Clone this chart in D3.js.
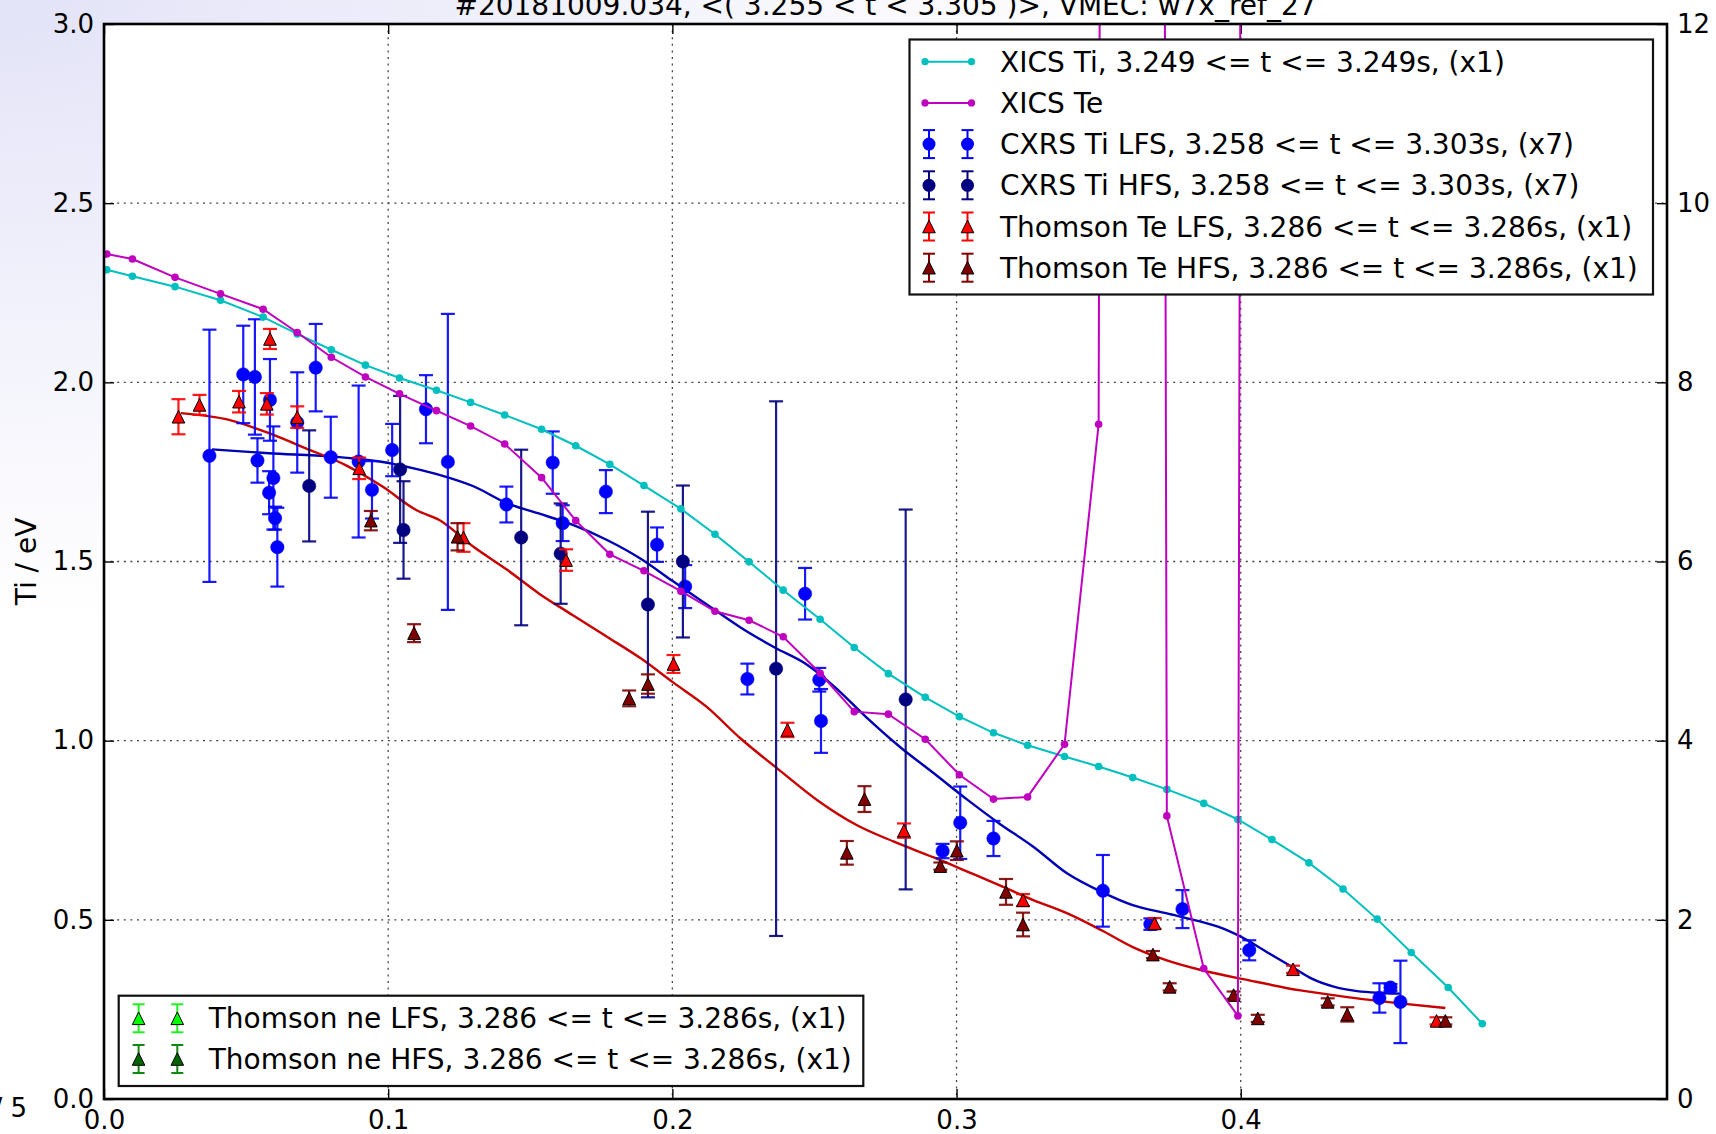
<!DOCTYPE html>
<html>
<head>
<meta charset="utf-8">
<script src="https://cdn.jsdelivr.net/npm/d3@7"></script>
<style>
  body { margin: 0; background: #fff; }
  svg { display: block; font-family: "DejaVu Sans", sans-serif; }
</style>
</head>
<body>
<script>
// ---- profile data (normalised radius vs. temperature) ----
const xicsX  = [0.001, 0.010, 0.025, 0.041, 0.056, 0.068, 0.080, 0.092, 0.104, 0.117, 0.129, 0.141, 0.154, 0.166, 0.178, 0.190, 0.203, 0.215, 0.227, 0.239, 0.252, 0.264, 0.276, 0.289, 0.301, 0.313, 0.325, 0.338, 0.350, 0.362, 0.374, 0.387, 0.399, 0.411, 0.424, 0.436, 0.448, 0.460, 0.473, 0.485];
const xicsTi = [2.314, 2.296, 2.267, 2.229, 2.182, 2.135, 2.091, 2.048, 2.012, 1.978, 1.944, 1.909, 1.869, 1.823, 1.771, 1.712, 1.647, 1.576, 1.499, 1.420, 1.339, 1.260, 1.187, 1.121, 1.067, 1.022, 0.987, 0.956, 0.928, 0.897, 0.864, 0.825, 0.780, 0.724, 0.659, 0.586, 0.502, 0.409, 0.311, 0.210];
// XICS Te inversion diverges at two radii (values far above the axis range)
const xicsTe = [2.358, 2.344, 2.293, 2.247, 2.204, 2.139, 2.070, 2.015, 1.968, 1.921, 1.878, 1.828, 1.734, 1.614, 1.520, 1.474, 1.417, 1.361, 1.336, 1.290, 1.188, 1.081, 1.074, 1.004, 0.905, 0.837, 0.843, 0.990, 1.883, 40.0, 0.790, 0.364, 0.232, 40.0];

// CXRS Ti, low-field side: [rho, Ti, err]
const cxrsLfs = [
  [0.0371, 1.795, 0.352], [0.0490, 2.022, 0.136], [0.0531, 2.015, 0.161], [0.0540, 1.782, 0.062],
  [0.0584, 1.951, 0.114], [0.0596, 1.733, 0.144], [0.0581, 1.692, 0.060], [0.0602, 1.621, 0.032],
  [0.0610, 1.540, 0.110], [0.0680, 1.888, 0.140], [0.0745, 2.041, 0.122], [0.0798, 1.791, 0.113],
  [0.0896, 1.779, 0.212], [0.0943, 1.700, 0.080], [0.1014, 1.811, 0.073], [0.1133, 1.925, 0.095],
  [0.1210, 1.778, 0.413], [0.1416, 1.659, 0.050], [0.1579, 1.776, 0.087], [0.1614, 1.607, 0.050],
  [0.1766, 1.695, 0.060], [0.1946, 1.547, 0.048], [0.2045, 1.430, 0.060], [0.2264, 1.172, 0.043],
  [0.2467, 1.410, 0.072], [0.2517, 1.170, 0.033], [0.2523, 1.055, 0.089], [0.2951, 0.692, 0.020],
  [0.3013, 0.771, 0.101], [0.3130, 0.727, 0.049], [0.3515, 0.581, 0.100], [0.3682, 0.488, 0.016],
  [0.3795, 0.530, 0.053], [0.4030, 0.415, 0.028], [0.4488, 0.282, 0.041], [0.4527, 0.311, 0.010],
  [0.4562, 0.271, 0.115]
];
// CXRS Ti, high-field side
const cxrsHfs = [
  [0.0722, 1.711, 0.155], [0.1042, 1.757, 0.205], [0.1054, 1.588, 0.136], [0.1468, 1.567, 0.245],
  [0.1607, 1.522, 0.140], [0.1914, 1.380, 0.259], [0.2037, 1.500, 0.212], [0.2365, 1.201, 0.746],
  [0.2821, 1.115, 0.530]
];
// Thomson Te, low-field side
const tsLfs = [
  [0.0262, 1.904, 0.049], [0.0336, 1.937, 0.028], [0.0475, 1.946, 0.030], [0.0573, 1.940, 0.030],
  [0.0584, 2.121, 0.028], [0.0680, 1.903, 0.030], [0.0898, 1.760, 0.030], [0.1265, 1.567, 0.040],
  [0.1626, 1.504, 0.030], [0.2004, 1.214, 0.025], [0.2405, 1.030, 0.020], [0.2815, 0.749, 0.020],
  [0.3234, 0.555, 0.017], [0.3697, 0.490, 0.015], [0.4184, 0.362, 0.010], [0.4689, 0.218, 0.010]
];
// Thomson Te, high-field side
const tsHfs = [
  [0.0939, 1.614, 0.027], [0.1091, 1.300, 0.025], [0.1244, 1.569, 0.038], [0.1848, 1.118, 0.022],
  [0.1914, 1.158, 0.027], [0.2614, 0.687, 0.033], [0.2676, 0.837, 0.036], [0.2943, 0.650, 0.010],
  [0.3001, 0.693, 0.026], [0.3174, 0.578, 0.036], [0.3234, 0.487, 0.033], [0.3691, 0.403, 0.010],
  [0.3750, 0.313, 0.010], [0.3975, 0.290, 0.010], [0.4060, 0.225, 0.010], [0.4306, 0.271, 0.010],
  [0.4375, 0.236, 0.020], [0.4720, 0.218, 0.010]
];

// smooth profile fits
const fitTiX = [0.038, 0.058, 0.080, 0.097, 0.109, 0.118, 0.130, 0.142, 0.153, 0.165, 0.177, 0.189, 0.200, 0.212, 0.224, 0.236, 0.247, 0.257, 0.268, 0.280, 0.292, 0.304, 0.315, 0.327, 0.339, 0.351, 0.362, 0.374, 0.386, 0.392, 0.400, 0.409, 0.418, 0.425, 0.433, 0.441, 0.450, 0.456];
const fitTiY = [1.813, 1.802, 1.793, 1.779, 1.760, 1.742, 1.710, 1.662, 1.634, 1.602, 1.560, 1.507, 1.446, 1.381, 1.316, 1.260, 1.214, 1.151, 1.067, 0.983, 0.909, 0.834, 0.769, 0.704, 0.629, 0.578, 0.541, 0.518, 0.495, 0.481, 0.453, 0.411, 0.369, 0.336, 0.313, 0.301, 0.296, 0.294];
const fitTeX = [0.027, 0.044, 0.058, 0.071, 0.085, 0.098, 0.110, 0.118, 0.130, 0.142, 0.153, 0.165, 0.177, 0.189, 0.200, 0.212, 0.224, 0.237, 0.251, 0.265, 0.278, 0.292, 0.304, 0.315, 0.327, 0.339, 0.351, 0.362, 0.374, 0.386, 0.403, 0.421, 0.439, 0.456, 0.472];
const fitTeY = [1.914, 1.895, 1.858, 1.816, 1.769, 1.709, 1.643, 1.616, 1.541, 1.476, 1.411, 1.350, 1.290, 1.229, 1.164, 1.095, 1.006, 0.922, 0.834, 0.764, 0.718, 0.674, 0.634, 0.597, 0.555, 0.518, 0.471, 0.424, 0.387, 0.360, 0.331, 0.303, 0.283, 0.267, 0.254];

// axis ticks
const xTicks  = [0.0, 0.1, 0.2, 0.3, 0.4];
const yTicks  = [0.0, 0.5, 1.0, 1.5, 2.0, 2.5, 3.0];
const yRTicks = [0, 2, 4, 6, 8, 10, 12];

const titleText = "#20181009.034, <( 3.255 < t < 3.305 )>, VMEC: w7x_ref_27";

const legendTop = [
  { label: "XICS Ti, 3.249 <= t <= 3.249s, (x1)", kind: "line", color: "#00bfbf" },
  { label: "XICS Te", kind: "line", color: "#bf00bf" },
  { label: "CXRS Ti LFS, 3.258 <= t <= 3.303s, (x7)", kind: "circle", color: "#0000ff", bar: "#0000ff" },
  { label: "CXRS Ti HFS, 3.258 <= t <= 3.303s, (x7)", kind: "circle", color: "#000080", bar: "#000080" },
  { label: "Thomson Te LFS, 3.286 <= t <= 3.286s, (x1)", kind: "tri", color: "#ff0000", bar: "#ff0000" },
  { label: "Thomson Te HFS, 3.286 <= t <= 3.286s, (x1)", kind: "tri", color: "#800000", bar: "#800000" }
];
const legendBottom = [
  { label: "Thomson ne LFS, 3.286 <= t <= 3.286s, (x1)", kind: "tri", color: "#00ff00", bar: "#22ee22" },
  { label: "Thomson ne HFS, 3.286 <= t <= 3.286s, (x1)", kind: "tri", color: "#006400", bar: "#118811" }
];

// ---- layout ----
const W = 1716, H = 1134;
const M = { left: 104, right: 1667, top: 24, bottom: 1099 };
const FS = 26;     // tick labels
const FS_T = 28;   // title, axis label, legend

const x  = d3.scaleLinear().domain([0, 0.55]).range([M.left, M.right]);
const y  = d3.scaleLinear().domain([0, 3]).range([M.bottom, M.top]);
const yR = d3.scaleLinear().domain([0, 12]).range([M.bottom, M.top]);

const svg = d3.select("body").append("svg").attr("width", W).attr("height", H);
const defs = svg.append("defs");

// soft lavender figure background
const bg = defs.append("radialGradient").attr("id", "figbg")
  .attr("gradientUnits", "userSpaceOnUse").attr("cx", 0).attr("cy", 0).attr("r", 1)
  .attr("gradientTransform", "scale(1150,620)");
bg.append("stop").attr("offset", 0).attr("stop-color", "#e3e3f8");
bg.append("stop").attr("offset", 0.55).attr("stop-color", "#f3f3fc");
bg.append("stop").attr("offset", 1).attr("stop-color", "#ffffff");
svg.append("rect").attr("width", W).attr("height", H).attr("fill", "url(#figbg)");

defs.append("clipPath").attr("id", "plotclip").append("rect")
  .attr("x", M.left).attr("y", M.top)
  .attr("width", M.right - M.left).attr("height", M.bottom - M.top);

// plot area
svg.append("rect").attr("x", M.left).attr("y", M.top)
  .attr("width", M.right - M.left).attr("height", M.bottom - M.top).attr("fill", "#fff");

// grid
const grid = svg.append("g").attr("stroke", "#444").attr("stroke-width", 1.3)
  .attr("stroke-dasharray", "2 4.6").attr("fill", "none");
xTicks.filter(t => t > 0).forEach(t => {
  grid.append("line").attr("x1", x(t)).attr("x2", x(t)).attr("y1", M.top).attr("y2", M.bottom);
});
yTicks.filter(t => t > 0 && t < 3).forEach(t => {
  grid.append("line").attr("x1", M.left).attr("x2", M.right).attr("y1", y(t)).attr("y2", y(t));
});

// axes with inward ticks
function styleAxis(g) {
  g.select(".domain").remove();
  g.selectAll(".tick line").attr("stroke", "#000").attr("stroke-width", 1.4);
  g.selectAll(".tick text").attr("font-size", FS).attr("fill", "#000")
    .attr("font-family", '"DejaVu Sans", sans-serif');
}
svg.append("g").attr("transform", `translate(0,${M.bottom})`)
  .call(d3.axisBottom(x).tickValues(xTicks).tickSize(-10).tickPadding(12).tickFormat(d3.format(".1f")))
  .call(styleAxis);
svg.append("g").attr("transform", `translate(0,${M.top})`)
  .call(d3.axisTop(x).tickValues(xTicks).tickSize(-10).tickFormat(""))
  .call(styleAxis);
svg.append("g").attr("transform", `translate(${M.left},0)`)
  .call(d3.axisLeft(y).tickValues(yTicks).tickSize(-10).tickPadding(10).tickFormat(d3.format(".1f")))
  .call(styleAxis);
svg.append("g").attr("transform", `translate(${M.right},0)`)
  .call(d3.axisRight(yR).tickValues(yRTicks).tickSize(-10).tickPadding(10).tickFormat(d3.format("d")))
  .call(styleAxis);

const plot = svg.append("g").attr("clip-path", "url(#plotclip)");

// fitted profiles
const smooth = d3.line().x(d => x(d[0])).y(d => y(d[1])).curve(d3.curveMonotoneX);
plot.append("path").datum(d3.zip(fitTiX, fitTiY)).attr("d", smooth)
  .attr("fill", "none").attr("stroke", "#0000b4").attr("stroke-width", 2.4);
plot.append("path").datum(d3.zip(fitTeX, fitTeY)).attr("d", smooth)
  .attr("fill", "none").attr("stroke", "#c80000").attr("stroke-width", 2.4);

// marker helpers
const CAP = 7;
function triPath(cx, cy, s) {
  return `M${cx},${cy - s}L${cx - s},${cy + s}L${cx + s},${cy + s}Z`;
}
function errorSeries(data, opt) {
  const g = plot.append("g");
  const bars = g.append("g").attr("stroke", opt.bar).attr("stroke-width", 2.2).attr("stroke-opacity", 0.9);
  data.forEach(d => {
    const y0 = y(d[1] - d[2]), y1 = y(d[1] + d[2]), cx = x(d[0]);
    bars.append("line").attr("x1", cx).attr("x2", cx).attr("y1", y0).attr("y2", y1);
    bars.append("line").attr("x1", cx - CAP).attr("x2", cx + CAP).attr("y1", y0).attr("y2", y0);
    bars.append("line").attr("x1", cx - CAP).attr("x2", cx + CAP).attr("y1", y1).attr("y2", y1);
  });
  if (opt.kind === "circle") {
    g.selectAll("circle").data(data).join("circle")
      .attr("cx", d => x(d[0])).attr("cy", d => y(d[1])).attr("r", 6.7)
      .attr("fill", opt.color).attr("stroke", opt.color).attr("stroke-width", 0.5);
  } else {
    g.selectAll("path.m").data(data).join("path").attr("class", "m")
      .attr("d", d => triPath(x(d[0]), y(d[1]), 6.3))
      .attr("fill", opt.color).attr("stroke", "#000").attr("stroke-width", 1);
  }
}
errorSeries(cxrsLfs, { kind: "circle", color: "#0000ff", bar: "#0000ff" });
errorSeries(cxrsHfs, { kind: "circle", color: "#000080", bar: "#000080" });
errorSeries(tsLfs, { kind: "tri", color: "#ff0000", bar: "#ff0000" });
errorSeries(tsHfs, { kind: "tri", color: "#800000", bar: "#800000" });

// XICS profiles (line + dots)
function lineSeries(xs, ys, color) {
  const pts = d3.zip(xs, ys);
  const ln = d3.line().x(d => x(d[0])).y(d => y(d[1]));
  plot.append("path").datum(pts).attr("d", ln).attr("fill", "none")
    .attr("stroke", color).attr("stroke-width", 2);
  plot.append("g").selectAll("circle").data(pts).join("circle")
    .attr("cx", d => x(d[0])).attr("cy", d => y(d[1])).attr("r", 3.8).attr("fill", color);
}
lineSeries(xicsX, xicsTi, "#00bfbf");
lineSeries(xicsX.slice(0, xicsTe.length), xicsTe, "#bf00bf");

// frame
svg.append("rect").attr("x", M.left).attr("y", M.top)
  .attr("width", M.right - M.left).attr("height", M.bottom - M.top)
  .attr("fill", "none").attr("stroke", "#000").attr("stroke-width", 2.6);

// legends
function legend(items, box, rowY0, rowStep, mx1, mx2, tx) {
  const g = svg.append("g");
  g.append("rect").attr("x", box.x).attr("y", box.y).attr("width", box.w).attr("height", box.h)
    .attr("fill", "#fff").attr("stroke", "#111").attr("stroke-width", 2.2);
  items.forEach((it, i) => {
    const cy = rowY0 + i * rowStep;
    if (it.kind === "line") {
      g.append("line").attr("x1", mx1 - 4).attr("x2", mx2 + 4).attr("y1", cy).attr("y2", cy)
        .attr("stroke", it.color).attr("stroke-width", 2);
      [mx1 - 4, mx2 + 4].forEach(px => g.append("circle").attr("cx", px).attr("cy", cy).attr("r", 3.6).attr("fill", it.color));
    } else {
      [mx1, mx2].forEach(px => {
        const e = 14, c = 6;
        g.append("line").attr("x1", px).attr("x2", px).attr("y1", cy - e).attr("y2", cy + e)
          .attr("stroke", it.bar).attr("stroke-width", 2);
        g.append("line").attr("x1", px - c).attr("x2", px + c).attr("y1", cy - e).attr("y2", cy - e)
          .attr("stroke", it.bar).attr("stroke-width", 2);
        g.append("line").attr("x1", px - c).attr("x2", px + c).attr("y1", cy + e).attr("y2", cy + e)
          .attr("stroke", it.bar).attr("stroke-width", 2);
        if (it.kind === "circle") {
          g.append("circle").attr("cx", px).attr("cy", cy).attr("r", 6.5).attr("fill", it.color);
        } else {
          g.append("path").attr("d", triPath(px, cy, 6.3)).attr("fill", it.color)
            .attr("stroke", "#000").attr("stroke-width", 1);
        }
      });
    }
    g.append("text").attr("x", tx).attr("y", cy).attr("dy", "0.36em")
      .attr("font-size", FS_T).attr("fill", "#000").text(it.label);
  });
}
legend(legendTop, { x: 909.5, y: 39.5, w: 743.5, h: 255 }, 61.7, 41.2, 929, 967.5, 1000);
legend(legendBottom, { x: 118.7, y: 995.7, w: 744.6, h: 90.3 }, 1018.3, 40.7, 138.6, 177.3, 208.7);

// titles and labels
svg.append("text").attr("x", (M.left + M.right) / 2).attr("y", 15).attr("text-anchor", "middle")
  .attr("font-size", FS_T).attr("fill", "#000").text(titleText);
svg.append("text").attr("transform", `translate(36,${(M.top + M.bottom) / 2}) rotate(-90)`)
  .attr("text-anchor", "middle").attr("font-size", FS_T).attr("fill", "#000").text("Ti / eV");
svg.append("text").attr("x", 27).attr("y", 1117).attr("text-anchor", "end")
  .attr("font-size", FS).attr("fill", "#000").text("/ 5");
</script>
</body>
</html>
